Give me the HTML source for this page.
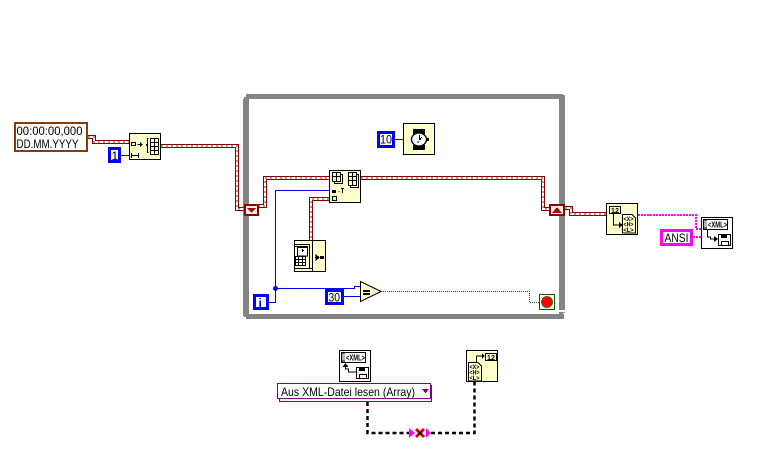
<!DOCTYPE html>
<html><head><meta charset="utf-8"><style>
html,body{margin:0;padding:0;background:#fff;width:761px;height:454px;overflow:hidden}
svg{display:block}
text{font-family:"Liberation Sans",sans-serif;fill:#000}
.c{shape-rendering:crispEdges}
.n{fill:#ffffcc;stroke:#000;stroke-width:1}
.ld{fill:none;stroke:#8c0000;stroke-width:4}
.lw{fill:none;stroke:#fff;stroke-width:2}
.lp{fill:none;stroke:#c89090;stroke-width:2;stroke-dasharray:2 3}
.bl{fill:none;stroke:#0000ff;stroke-width:1}
.cb{fill:#fff;stroke:#0000ff;stroke-width:3}
</style></head><body>
<svg width="761" height="454" viewBox="0 0 761 454" xmlns="http://www.w3.org/2000/svg">
<defs>
<g id="xmlsave">
<rect class="c" x="0.5" y="0.5" width="31" height="31" fill="#fff" stroke="#000"/>
<rect class="c" x="2.5" y="2.5" width="24" height="10" fill="#fff" stroke="#000"/>
<rect class="c" x="3" y="3" width="3" height="9" fill="#666"/>
<path class="c" d="M3 5h3M3 7h3M3 9h3" stroke="#fff" fill="none"/>
<text x="7" y="10.500" font-size="8" font-weight="bold" textLength="19" lengthAdjust="spacingAndGlyphs">&lt;XML&gt;</text>
<rect class="c" x="17.500" y="17.500" width="12" height="11" fill="#fff" stroke="#000"/>
<rect class="c" x="20" y="18" width="6" height="3" fill="#000"/>
<rect class="c" x="20.500" y="24.500" width="7" height="4" fill="#fff" stroke="#000"/>
</g>
<g id="xmlpage">
<path class="c" d="M0.500 0.500h9.500l3.500 3.500v15h-13z" fill="#ffffcc" stroke="#000"/>
<text x="1.500" y="7" font-size="6.500" font-weight="bold" textLength="10" lengthAdjust="spacingAndGlyphs">&lt;X&gt;</text>
<text x="1.500" y="12.500" font-size="6.500" font-weight="bold" textLength="10" lengthAdjust="spacingAndGlyphs">&lt;H&gt;</text>
<text x="1.500" y="18" font-size="6.500" font-weight="bold" textLength="10" lengthAdjust="spacingAndGlyphs">&lt;L&gt;</text>
</g>
</defs>

<!-- loop frame -->
<path class="c" d="M243 99h1v-2h2v-3h317v1h2v218h-2v1h1v5h-318v-2h-2v-1h-1z" fill="#848484"/>
<rect class="c" x="249" y="99" width="310" height="215" fill="#fff"/>
<rect class="c" x="559" y="310" width="6" height="2" fill="#fff"/>

<!-- red timestamp wires -->
<g class="c">
<path class="ld" d="M88 137H94V142H129"/><path class="lw" d="M88 137H94V142H129"/><path class="lp" d="M88 137H94V142H129"/>
<path class="ld" d="M161 146H237V209H244"/><path class="lw" d="M161 146H237V209H244"/><path class="lp" d="M161 146H237V209H244"/>
<path class="ld" d="M258 206H265V178H329"/><path class="lw" d="M258 206H265V178H329"/><path class="lp" d="M258 206H265V178H329"/>
<path class="ld" d="M361 178H543V209H550"/><path class="lw" d="M361 178H543V209H550"/><path class="lp" d="M361 178H543V209H550"/>
<path class="ld" d="M565 208H571V214H606"/><path class="lw" d="M565 208H571V214H606"/><path class="lp" d="M565 208H571V214H606"/>
<path class="ld" d="M329 199H311V240"/><path class="lw" d="M329 199H311V240"/><path class="lp" d="M329 199H311V240"/>
</g>

<!-- timestamp constant -->
<rect class="c" x="15" y="123" width="72" height="28" fill="#fff" stroke="#843c0c" stroke-width="2"/>
<text x="16.500" y="135" font-size="12" textLength="66" lengthAdjust="spacingAndGlyphs">00:00:00,000</text>
<text x="16.500" y="148" font-size="12" textLength="62" lengthAdjust="spacingAndGlyphs">DD.MM.YYYY</text>

<!-- blue wires -->
<g class="c">
<path class="bl" d="M120 155.500H129"/>
<path class="bl" d="M395 139.500H403"/>
<path class="bl" d="M329 190.500H275.500V302.500H269"/>
<path class="bl" d="M275 288.500H354.500V286.500H360"/>
<path class="bl" d="M344 296.500H360"/>
</g>
<circle cx="275.500" cy="288.500" r="2.500" fill="#0000ff"/>

<!-- const 1 -->
<rect class="c cb" x="109.500" y="148.500" width="10" height="13"/>
<text x="111.500" y="160" font-size="12">1</text>

<!-- build array icon -->
<rect class="c n" x="129.500" y="133.500" width="31" height="26"/>
<g class="c" fill="none" stroke="#000">
<rect x="131.500" y="142.500" width="4" height="3"/>
<path d="M137.500 144.500h3"/>
<path d="M140 142l3 2.500l-3 2.500z" fill="#000" stroke="none"/>
<path d="M132 155.500h7M131.500 153v5M138.500 153v5"/>
<path d="M148.500 138.500h-1v6h-1v1h1v7h1"/>
<rect x="150.500" y="138.500" width="8" height="16"/>
<path d="M150 142.500h9M150 146.500h9M150 150.500h9M154.500 138v16"/>
</g>

<!-- wait -->
<rect class="c cb" x="378.500" y="132.500" width="15" height="14"/>
<text x="380" y="143.500" font-size="12" textLength="12" lengthAdjust="spacingAndGlyphs">10</text>
<rect class="c n" x="403.500" y="123.500" width="31" height="31"/>
<rect class="c" x="413" y="129" width="12" height="5" fill="#000"/>
<rect class="c" x="413" y="145" width="12" height="5" fill="#000"/>
<ellipse cx="419" cy="139.500" rx="7.500" ry="6.500" fill="#fff" stroke="#000" stroke-width="1.300"/>
<rect class="c" x="427" y="138" width="2" height="3" fill="#000"/>
<path class="c" d="M419.500 135v5M420.500 140v-2M421.500 138v-1M417 142h2" stroke="#000" fill="none"/>

<!-- tunnels -->
<rect class="c" x="245" y="205" width="13" height="10" fill="#fdf0e8" stroke="#8c0000" stroke-width="2"/>
<path class="c" d="M247 208h9l-4.500 5z" fill="#9c1010"/>
<rect class="c" x="550" y="205" width="14" height="10" fill="#fdf0e8" stroke="#8c0000" stroke-width="2"/>
<path class="c" d="M552 213h10l-5-6z" fill="#9c1010"/>

<!-- array subset icon -->
<rect class="c n" x="329.500" y="170.500" width="31" height="32"/>
<g class="c" stroke="#000" fill="none">
<rect x="334.500" y="174.500" width="8" height="9"/>
<rect x="332.500" y="172.500" width="8" height="9" style="fill:#ffffcc"/>
<path d="M332 176.500h9M336.500 172v10"/>
<rect x="350.500" y="174.500" width="8" height="13"/>
<rect x="348.500" y="172.500" width="8" height="13" style="fill:#ffffcc"/>
<path d="M348 176.500h9M348 180.500h9M352.500 172v13"/>
<path d="M338.500 191.500h1M341 188.500h3M342.500 188v5"/>
<rect x="332" y="190" width="4" height="3" fill="#000" stroke="none"/>
<rect x="332.500" y="196.500" width="4" height="4"/>
</g>

<!-- clock / date icon -->
<rect class="c n" x="294.500" y="240.500" width="31" height="31"/>
<g class="c" stroke="#000" fill="none">
<path d="M312.500 241v30"/>
<path d="M295 244.500h14.500v24H295"/>
<path d="M295 246.500h13M295 268.500h17"/>
<rect x="297.500" y="247.500" width="10" height="8.500" style="fill:#fff"/>
<rect x="295.500" y="256.500" width="10" height="9" style="fill:#fff"/>
<path d="M295 259.500h11M295 262.500h11M298.500 256v10M302.500 256v10"/>
<path d="M302.500 249v3M303.500 251v-1"/>
<path d="M315 257.500h2"/>
<path d="M316 255l3 2.500l-3 2.500z" fill="#000"/>
<rect x="320" y="256" width="4" height="3" fill="#000" stroke="none"/>
</g>

<!-- iteration -->
<rect class="c cb" x="254.500" y="295.500" width="13" height="13"/>
<text x="258.500" y="307" font-size="12" font-weight="bold" style="fill:#0000ff">i</text>

<!-- 30 -->
<rect class="c cb" x="326.500" y="290.500" width="16" height="13"/>
<text x="328.500" y="301.500" font-size="12" textLength="11.500" lengthAdjust="spacingAndGlyphs">30</text>

<!-- equal -->
<path d="M360.500 281.500L381 291.500L360.500 301.500z" fill="#ffffcc" stroke="#000"/>
<rect class="c" x="363" y="290" width="7" height="2" fill="#000"/>
<rect class="c" x="363" y="293" width="7" height="2" fill="#000"/>

<!-- green dotted -->
<path class="c" d="M381 291.500H529.500V302.500H539" fill="none" stroke="#006400" stroke-width="1" stroke-dasharray="1 1"/>

<!-- stop -->
<rect class="c" x="539.500" y="294.500" width="15" height="15" fill="#ffffe0" stroke="#006400"/>
<circle cx="547" cy="302" r="5.500" fill="#ff0000" stroke="#555" stroke-width="1"/>

<!-- pink wires -->
<g class="c" fill="none" stroke="#ff00ff" stroke-width="2" stroke-dasharray="2 1">
<path d="M638 215H696V229H702"/>
<path d="M693 237H701"/>
</g>

<!-- XML flatten -->
<rect class="c n" x="606.500" y="203.500" width="31" height="31"/>
<g class="c" stroke="#000" fill="none">
<rect x="609.500" y="206.500" width="11" height="7"/>
<path d="M613.500 214v11h7"/>
<path d="M619 222l4 3l-4 3z" fill="#000" stroke="none"/>
</g>
<text x="611" y="212.800" font-size="7" font-weight="bold" textLength="8">1.2</text>
<use href="#xmlpage" x="622" y="214"/>

<!-- ANSI -->
<rect class="c" x="661.500" y="230.500" width="30" height="14" fill="#fff" stroke="#ff00ff" stroke-width="3"/>
<text x="664.500" y="242" font-size="12" textLength="24" lengthAdjust="spacingAndGlyphs">ANSI</text>

<use href="#xmlsave" x="701" y="217"/>
<path class="c" d="M707.500 229v8h3v2h7" fill="none" stroke="#000"/>
<path d="M714 236l4 3l-4 3z" fill="#000"/>

<!-- bottom black wires -->
<g fill="none" stroke="#000" stroke-width="2.500" stroke-dasharray="4 3">
<path d="M367.500 402V433H410"/>
<path d="M431 433H474.500V382"/>
</g>

<!-- bottom save node -->
<use href="#xmlsave" x="339" y="350"/>
<path class="c" d="M345.500 366v3h3v3h8" fill="none" stroke="#000"/>
<path d="M342.500 367l3-4l3 4z" fill="#000"/>

<!-- ring -->
<rect class="c" x="279.500" y="385.500" width="152" height="16" fill="#fff" stroke="#800080"/>
<rect class="c" x="277.500" y="383.500" width="153" height="15" fill="#fff" stroke="#800080"/>
<text x="281" y="396" font-size="12" textLength="134" lengthAdjust="spacingAndGlyphs">Aus XML-Datei lesen (Array)</text>
<path class="c" d="M422 389h7l-3.500 4.500z" fill="#800080"/>

<!-- coercion / broken marker -->
<path d="M409 428l6 5l-6 5z" fill="#ff00ff"/>
<path d="M426 428l5 5l-5 5z" fill="#ff00ff"/>
<path d="M416 429l8 8M424 429l-8 8" stroke="#e00000" stroke-width="3" fill="none"/>
<path d="M418 431l4 4M422 431l-4 4" stroke="#000" stroke-width="1" fill="none"/>

<!-- bottom read node -->
<rect class="c n" x="466.500" y="350.500" width="31" height="31"/>
<g class="c" stroke="#000" fill="none">
<rect x="485.500" y="353.500" width="11" height="7"/>
<path d="M476.500 362v-6h7"/>
<path d="M482 353.500l3 2.500l-3 2.500z" fill="#000" stroke="none"/>
</g>
<text x="487" y="359.800" font-size="7" font-weight="bold" textLength="8">1.2</text>
<use href="#xmlpage" x="468" y="362"/>
</svg>
</body></html>
